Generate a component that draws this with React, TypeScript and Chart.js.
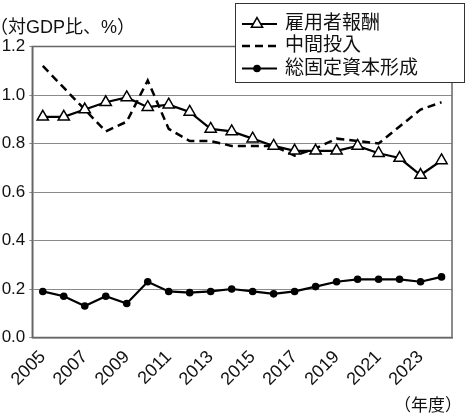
import React, { useEffect, useRef } from 'react';
import { Chart, registerables } from 'chart.js';

Chart.register(...registerables);

// 年度
const years = [
  '2005', '2006', '2007', '2008', '2009', '2010', '2011', '2012', '2013', '2014',
  '2015', '2016', '2017', '2018', '2019', '2020', '2021', '2022', '2023', '2024',
];

// 雇用者報酬（対GDP比、%）
const compensation = [
  0.91, 0.91, 0.94, 0.97, 0.99, 0.95, 0.96, 0.93, 0.86, 0.85,
  0.82, 0.79, 0.77, 0.77, 0.77, 0.79, 0.76, 0.74, 0.67, 0.73,
];

// 中間投入（対GDP比、%）
const intermediateInput = [
  1.12, 1.03, 0.94, 0.85, 0.89, 1.06, 0.86, 0.81, 0.81, 0.79,
  0.79, 0.79, 0.75, 0.78, 0.82, 0.81, 0.80, 0.87, 0.94, 0.97,
];

// 総固定資本形成（対GDP比、%）
const capitalFormation = [
  0.19, 0.17, 0.13, 0.17, 0.14, 0.23, 0.19, 0.185, 0.19, 0.2,
  0.19, 0.18, 0.19, 0.21, 0.23, 0.24, 0.24, 0.24, 0.23, 0.25,
];

const seriesNames = ['雇用者報酬', '中間投入', '総固定資本形成'];
const yMin = 0;
const yMax = 1.2;
const yStep = 0.2;
const yAxisTitle = '（対GDP比、%）';
const xAxisTitle = '（年度）';

const LATIN = "'Liberation Sans', Arial, sans-serif";
const CJK = "'Liberation Sans', 'Noto Sans CJK JP', sans-serif";

function drawTriangle(ctx: CanvasRenderingContext2D, x: number, y: number, r: number) {
  ctx.beginPath();
  for (let i = 0; i < 3; i++) {
    const a = (i * 2 * Math.PI) / 3;
    const px = x + Math.sin(a) * r;
    const py = y - Math.cos(a) * r;
    if (i === 0) ctx.moveTo(px, py);
    else ctx.lineTo(px, py);
  }
  ctx.closePath();
  ctx.fillStyle = '#fff';
  ctx.fill();
  ctx.lineWidth = 1.5;
  ctx.strokeStyle = '#000';
  ctx.stroke();
}

const decorations = {
  id: 'decorations',
  beforeDatasetsDraw(chart: any) {
    const { ctx, chartArea: a } = chart;
    ctx.save();
    ctx.strokeStyle = '#666';
    ctx.lineWidth = 1.5;
    ctx.strokeRect(a.left, a.top, a.right - a.left, a.bottom - a.top);
    ctx.restore();
  },
  afterDraw(chart: any) {
    const { ctx } = chart;
    ctx.save();

    // axis captions
    ctx.fillStyle = '#111';
    ctx.textBaseline = 'middle';
    ctx.textAlign = 'left';
    ctx.font = `18px ${CJK}`;
    const m1 = ctx.measureText(yAxisTitle);
    ctx.fillText(yAxisTitle, 2 + m1.actualBoundingBoxLeft, 28);
    ctx.font = `17px ${CJK}`;
    const m2 = ctx.measureText(xAxisTitle);
    ctx.fillText(xAxisTitle, 405 + m2.actualBoundingBoxLeft, 406);

    // legend box
    const bx = 235.5, by = 3.5, bw = 229, bh = 79;
    ctx.fillStyle = '#fff';
    ctx.fillRect(bx, by, bw, bh);
    ctx.strokeStyle = '#333';
    ctx.lineWidth = 1;
    ctx.strokeRect(bx, by, bw, bh);

    const rows = [24, 46, 68.5];
    const x0 = 242, x1 = 277, xm = 257;
    ctx.strokeStyle = '#000';
    ctx.lineWidth = 2;

    ctx.beginPath();
    ctx.moveTo(x0, rows[0]);
    ctx.lineTo(x1, rows[0]);
    ctx.stroke();
    drawTriangle(ctx, xm, rows[0], 6.5);

    ctx.lineWidth = 2.5;
    ctx.setLineDash([8, 5]);
    ctx.beginPath();
    ctx.moveTo(x0, rows[1]);
    ctx.lineTo(x1, rows[1]);
    ctx.stroke();
    ctx.setLineDash([]);

    ctx.lineWidth = 2;
    ctx.beginPath();
    ctx.moveTo(x0, rows[2]);
    ctx.lineTo(x1, rows[2]);
    ctx.stroke();
    ctx.beginPath();
    ctx.arc(xm, rows[2], 3.8, 0, Math.PI * 2);
    ctx.fillStyle = '#000';
    ctx.fill();

    ctx.fillStyle = '#111';
    ctx.font = `19px ${CJK}`;
    ctx.textAlign = 'left';
    ctx.textBaseline = 'middle';
    seriesNames.forEach((name, i) => ctx.fillText(name, 285, rows[i]));

    ctx.restore();
  },
};

export default function App() {
  const canvasRef = useRef<HTMLCanvasElement | null>(null);

  useEffect(() => {
    document.body.style.margin = '0';
    const canvas = canvasRef.current;
    if (!canvas) return;

    const chart = new Chart(canvas, {
      type: 'line',
      data: {
        labels: years,
        datasets: [
          {
            label: seriesNames[0],
            data: compensation,
            borderColor: '#000',
            borderWidth: 2.2,
            pointStyle: 'triangle',
            pointRadius: 6.5,
            pointBackgroundColor: '#fff',
            pointBorderColor: '#000',
            pointBorderWidth: 1.5,
            tension: 0,
            order: 1,
          },
          {
            label: seriesNames[1],
            data: intermediateInput,
            borderColor: '#000',
            borderWidth: 2.5,
            borderDash: [8, 5],
            pointRadius: 0,
            tension: 0,
            order: 2,
          },
          {
            label: seriesNames[2],
            data: capitalFormation,
            borderColor: '#000',
            borderWidth: 2.2,
            pointStyle: 'circle',
            pointRadius: 3.8,
            pointBackgroundColor: '#000',
            pointBorderColor: '#000',
            pointBorderWidth: 0,
            tension: 0,
            order: 0,
          },
        ],
      },
      options: {
        responsive: false,
        animation: false,
        events: [],
        layout: { padding: { top: 46.5, right: 2, bottom: 0, left: 0 } },
        plugins: {
          legend: { display: false },
          title: { display: false },
          tooltip: { enabled: false },
        },
        scales: {
          x: {
            offset: true,
            grid: { display: false, drawTicks: false },
            border: { display: true, color: '#666', width: 1.5 },
            ticks: {
              autoSkip: false,
              maxRotation: 45,
              minRotation: 45,
              padding: 9,
              color: '#111',
              font: { family: LATIN, size: 18 },
              callback: (_v: any, i: number) => (i % 2 === 0 ? years[i] : ''),
            },
            afterFit: (scale: any) => {
              scale.height = 80.5;
            },
          },
          y: {
            min: yMin,
            max: yMax,
            grid: {
              color: '#8a8a8a',
              lineWidth: 1,
              drawTicks: true,
              tickLength: 3,
            },
            border: { display: true, color: '#666', width: 1.5 },
            ticks: {
              stepSize: yStep,
              padding: 4,
              color: '#111',
              font: { family: LATIN, size: 17 },
              callback: (v: any) => Number(v).toFixed(1),
            },
            afterFit: (scale: any) => {
              scale.width = 32.3;
            },
          },
        },
      },
      plugins: [decorations],
    });

    return () => chart.destroy();
  }, []);

  return (
    <div style={{ width: 466, height: 418, background: '#fff' }}>
      <canvas ref={canvasRef} width={466} height={418} style={{ display: 'block' }} />
    </div>
  );
}
